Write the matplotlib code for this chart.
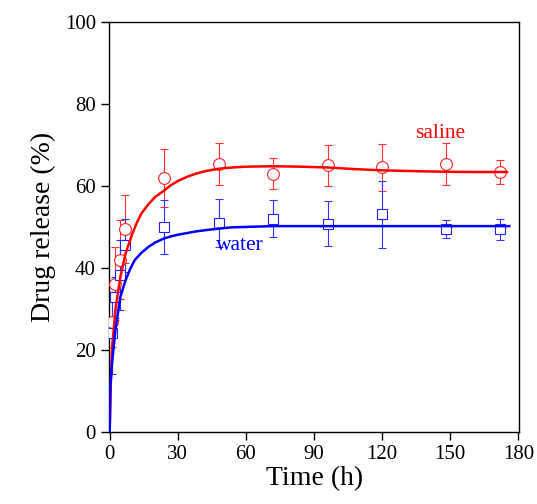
import matplotlib.pyplot as plt

plt.rcParams['font.family'] = ['Liberation Serif', 'DejaVu Serif']

# measured points
saline_t = [0.8, 2.5, 4.7, 6.9, 24, 48, 72, 96, 120, 148, 172]
saline_v = [26.7, 36.1, 41.9, 49.3, 61.8, 65.3, 62.9, 64.9, 64.4, 65.3, 63.3]
saline_err = [6, 8.9, 9.6, 8.3, 7, 5.1, 3.8, 5, 5.8, 5.1, 2.9]

water_t = [0.8, 2.5, 4.7, 6.9, 24, 48, 72, 96, 120, 148, 172]
water_v = [24.1, 32.8, 38.1, 45.4, 49.9, 50.9, 51.9, 50.7, 53.0, 49.3, 49.3]
water_err = [10, 5, 8.5, 6.5, 6.5, 5.9, 4.5, 5.5, 8.2, 2.2, 2.5]

# fitted curves
saline_fit_t = [0, 0.5, 1, 2.5, 4.7, 7, 10, 12, 14, 17, 20, 24, 27, 30, 34, 38, 42, 48, 54,
                60, 72, 84, 96, 108, 120, 135, 148, 160, 175]
saline_fit_v = [0, 12, 19.9, 29.6, 37.7, 43.4, 48.3, 51, 53.2, 55.4, 57.2, 58.8, 60.1, 61.1,
                62.1, 62.9, 63.5, 64.1, 64.4, 64.6, 64.7, 64.6, 64.4, 64.0, 63.7, 63.5,
                63.35, 63.3, 63.3]
water_fit_t = [0, 0.3, 1, 2.5, 4.7, 7, 9, 11, 14, 17, 20, 24, 27, 30, 34, 38, 42, 48, 54,
               60, 72, 96, 120, 148, 176]
water_fit_v = [0, 11, 16.5, 24.7, 32.8, 36.9, 39.6, 41.8, 43.6, 45, 46.1, 47.1, 47.6, 48.0,
               48.4, 48.8, 49.1, 49.5, 49.8, 49.9, 50.1, 50.1, 50.1, 50.1, 50.1]

fig = plt.figure(figsize=(5.37, 5.04), dpi=100)
ax = fig.add_axes([0.203, 0.1438, 0.7644, 0.8135])

ax.errorbar(saline_t, saline_v, yerr=saline_err, fmt='none', ecolor='#ff3030',
            elinewidth=0.8, capsize=2.8, capthick=0.8, zorder=2)
ax.errorbar(water_t, water_v, yerr=water_err, fmt='none', ecolor='#3030ff',
            elinewidth=0.8, capsize=2.8, capthick=0.8, zorder=2)
ax.plot(saline_t, saline_v, 'o', ms=8.5, mfc='white', mec='#ff2020', mew=0.8, zorder=3)
ax.plot(water_t, water_v, 's', ms=7.8, mfc='white', mec='#2020ff', mew=0.8, zorder=3)
ax.plot(saline_fit_t, saline_fit_v, color='red', lw=1.8, zorder=4)
ax.plot(water_fit_t, water_fit_v, color='blue', lw=1.8, zorder=4)

ax.text(145.5, 72.7, 'saline', color='red', fontsize=15.5, ha='center', va='center')
ax.text(57.5, 45.4, 'water', color='blue', fontsize=15.5, ha='center', va='center')

ax.set_xlim(-0.3, 180.5)
ax.set_ylim(0, 100)
ax.set_xticks([0, 30, 60, 90, 120, 150, 180])
ax.set_yticks([0, 20, 40, 60, 80, 100])
ax.tick_params(direction='out', length=6, width=1, labelsize=15, top=False, right=False)
for s in ax.spines.values():
    s.set_linewidth(1)
ax.set_xlabel('Time (h)', fontsize=20, labelpad=2)
ax.set_ylabel('Drug release (%)', fontsize=20, labelpad=6)

fig.savefig('out.png', dpi=100)
